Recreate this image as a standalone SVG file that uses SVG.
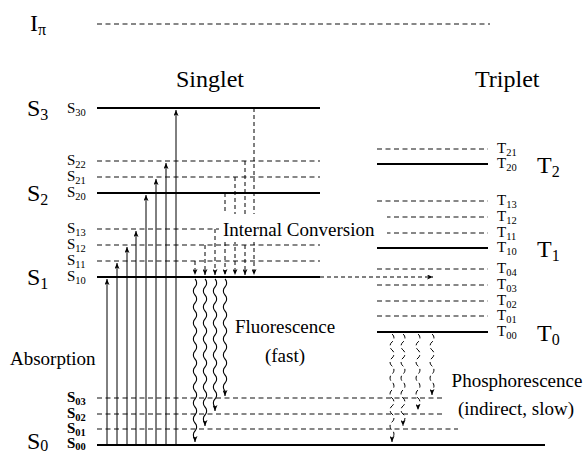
<svg xmlns="http://www.w3.org/2000/svg" width="588" height="454" viewBox="0 0 588 454" font-family="'Liberation Serif', 'Times New Roman', serif">
  <style>
    text { font-family: "Liberation Serif", "Times New Roman", serif; fill: #000; }
    .solid { stroke: #000; stroke-width: 2; fill: none; }
    .dash { stroke: #111; stroke-width: 1.1; stroke-dasharray: 5 3.5; fill: none; }
    .lbl { font-size: 15px; }
    .lbl tspan { font-size: 10.5px; }
    .big { font-size: 24px; }
    .big tspan { font-size: 16px; }
    .cap { font-size: 19px; }
    .abs { stroke: #000; stroke-width: 1; fill: none; marker-end: url(#ah); }
    .ic { stroke: #000; stroke-width: 1; stroke-dasharray: 4 3; fill: none; marker-end: url(#ah); }
    .wave { stroke: #000; stroke-width: 1.1; fill: none; marker-end: url(#ah); }
    .dwave { stroke: #000; stroke-width: 1; stroke-dasharray: 5 3; fill: none; marker-end: url(#ah); }
  </style>
  <defs>
    <marker id="ah" viewBox="0 0 6 5" refX="6" refY="2.5" markerWidth="6" markerHeight="5" orient="auto" markerUnits="userSpaceOnUse">
      <path d="M0,0 L6,2.5 L0,5 L1.6,2.5 z" fill="#000"/>
    </marker>
  </defs>
  <rect width="588" height="454" fill="#fff"/>

  <!-- ionisation limit -->
  <g id="Ipi">
    <line class="dash" x1="97" y1="24" x2="490" y2="24"/>
    <text class="big" x="30" y="31">I<tspan dy="4">π</tspan></text>
  </g>

  <text class="big" x="176" y="87">Singlet</text>
  <text class="big" x="475" y="87">Triplet</text>

  <!-- singlet manifold -->
  <g id="S3">
    <text class="big" x="27" y="116">S<tspan dy="4">3</tspan></text>
    <g id="S30"><line class="solid" x1="97" y1="108" x2="320" y2="108"/><text class="lbl" x="67" y="113">S<tspan dy="3">30</tspan></text></g>
  </g>
  <g id="S2">
    <text class="big" x="27" y="201">S<tspan dy="4">2</tspan></text>
    <g id="S22"><line class="dash" x1="97" y1="161" x2="320" y2="161"/><text class="lbl" x="67" y="165">S<tspan dy="3">22</tspan></text></g>
    <g id="S21"><line class="dash" x1="97" y1="177" x2="320" y2="177"/><text class="lbl" x="67" y="181">S<tspan dy="3">21</tspan></text></g>
    <g id="S20"><line class="solid" x1="97" y1="193" x2="320" y2="193"/><text class="lbl" x="67" y="197">S<tspan dy="3">20</tspan></text></g>
  </g>
  <g id="S1">
    <text class="big" x="27" y="285">S<tspan dy="4">1</tspan></text>
    <g id="S13"><line class="dash" x1="97" y1="229" x2="320" y2="229"/><text class="lbl" x="67" y="233">S<tspan dy="3">13</tspan></text></g>
    <g id="S12"><line class="dash" x1="97" y1="245" x2="320" y2="245"/><text class="lbl" x="67" y="249">S<tspan dy="3">12</tspan></text></g>
    <g id="S11"><line class="dash" x1="97" y1="261" x2="320" y2="261"/><text class="lbl" x="67" y="265">S<tspan dy="3">11</tspan></text></g>
    <g id="S10"><line class="solid" x1="97" y1="277" x2="320" y2="277"/><text class="lbl" x="67" y="281">S<tspan dy="3">10</tspan></text></g>
  </g>
  <g id="S0" font-weight="bold">
    <text class="big" x="27" y="449" font-weight="normal">S<tspan dy="2">0</tspan></text>
    <g id="S03"><line class="dash" x1="97" y1="398" x2="443" y2="398"/><text class="lbl" x="67" y="402">S<tspan dy="3">03</tspan></text></g>
    <g id="S02"><line class="dash" x1="97" y1="414" x2="443" y2="414"/><text class="lbl" x="67" y="418">S<tspan dy="3">02</tspan></text></g>
    <g id="S01"><line class="dash" x1="97" y1="429" x2="458" y2="429"/><text class="lbl" x="67" y="433">S<tspan dy="3">01</tspan></text></g>
    <g id="S00"><line class="solid" x1="97" y1="445" x2="545" y2="445"/><text class="lbl" x="67" y="448">S<tspan dy="2">00</tspan></text></g>
  </g>

  <!-- triplet manifold -->
  <g id="T2">
    <text class="big" x="537" y="173">T<tspan dy="4">2</tspan></text>
    <g id="T21"><line class="dash" x1="377" y1="149" x2="488" y2="149"/><text class="lbl" x="497" y="153">T<tspan dy="3">21</tspan></text></g>
    <g id="T20"><line class="solid" x1="377" y1="164" x2="488" y2="164"/><text class="lbl" x="497" y="168">T<tspan dy="3">20</tspan></text></g>
  </g>
  <g id="T1">
    <text class="big" x="537" y="257">T<tspan dy="4">1</tspan></text>
    <g id="T13"><line class="dash" x1="377" y1="201" x2="488" y2="201"/><text class="lbl" x="497" y="205">T<tspan dy="3">13</tspan></text></g>
    <g id="T12"><line class="dash" x1="377" y1="217" x2="488" y2="217"/><text class="lbl" x="497" y="221">T<tspan dy="3">12</tspan></text></g>
    <g id="T11"><line class="dash" x1="377" y1="233" x2="488" y2="233"/><text class="lbl" x="497" y="237">T<tspan dy="3">11</tspan></text></g>
    <g id="T10"><line class="solid" x1="377" y1="248" x2="488" y2="248"/><text class="lbl" x="497" y="252">T<tspan dy="3">10</tspan></text></g>
  </g>
  <g id="T0">
    <text class="big" x="537" y="341">T<tspan dy="4">0</tspan></text>
    <g id="T04"><line class="dash" x1="377" y1="269" x2="488" y2="269"/><text class="lbl" x="497" y="273">T<tspan dy="3">04</tspan></text></g>
    <g id="T03"><line class="dash" x1="377" y1="285" x2="488" y2="285"/><text class="lbl" x="497" y="289">T<tspan dy="3">03</tspan></text></g>
    <g id="T02"><line class="dash" x1="377" y1="301" x2="488" y2="301"/><text class="lbl" x="497" y="305">T<tspan dy="3">02</tspan></text></g>
    <g id="T01"><line class="dash" x1="377" y1="316" x2="488" y2="316"/><text class="lbl" x="497" y="320">T<tspan dy="3">01</tspan></text></g>
    <g id="T00"><line class="solid" x1="377" y1="332" x2="488" y2="332"/><text class="lbl" x="497" y="336">T<tspan dy="3">00</tspan></text></g>
  </g>

  <!-- transitions -->
  <g id="connectors">
    <!-- absorption -->
    <line class="abs" x1="107" y1="444" x2="107" y2="279"/>
    <line class="abs" x1="117" y1="444" x2="117" y2="263"/>
    <line class="abs" x1="127" y1="444" x2="127" y2="247"/>
    <line class="abs" x1="136" y1="444" x2="136" y2="231"/>
    <line class="abs" x1="146" y1="444" x2="146" y2="195"/>
    <line class="abs" x1="156" y1="444" x2="156" y2="179"/>
    <line class="abs" x1="166" y1="444" x2="166" y2="163"/>
    <line class="abs" x1="176" y1="444" x2="176" y2="110"/>
    <!-- internal conversion -->
    <line class="ic" x1="195" y1="261" x2="195" y2="275"/>
    <line class="ic" x1="205" y1="245" x2="205" y2="275"/>
    <line class="ic" x1="215" y1="229" x2="215" y2="275"/>
    <line class="ic" x1="225" y1="193" x2="225" y2="275"/>
    <line class="ic" x1="235" y1="177" x2="235" y2="275"/>
    <line class="ic" x1="245" y1="161" x2="245" y2="275"/>
    <line class="ic" x1="254" y1="108" x2="254" y2="275"/>
    <!-- intersystem crossing -->
    <line class="ic" x1="320" y1="277" x2="433" y2="277"/>
    <!-- fluorescence (sine-like half waves of 8px) -->
    <path class="wave" d="M195,279 c2.2,2 2.2,6 0,8 s-2.2,6 0,8 s2.2,6 0,8 s-2.2,6 0,8 s2.2,6 0,8 s-2.2,6 0,8 s2.2,6 0,8 s-2.2,6 0,8 s2.2,6 0,8 s-2.2,6 0,8 s2.2,6 0,8 s-2.2,6 0,8 s2.2,6 0,8 s-2.2,6 0,8 s2.2,6 0,8 s-2.2,6 0,8 s2.2,6 0,8 s-2.2,6 0,8 s2.2,6 0,8 s-2.2,6 0,8 l0,3"/>
    <path class="wave" d="M205,279 c2.2,2 2.2,6 0,8 s-2.2,6 0,8 s2.2,6 0,8 s-2.2,6 0,8 s2.2,6 0,8 s-2.2,6 0,8 s2.2,6 0,8 s-2.2,6 0,8 s2.2,6 0,8 s-2.2,6 0,8 s2.2,6 0,8 s-2.2,6 0,8 s2.2,6 0,8 s-2.2,6 0,8 s2.2,6 0,8 s-2.2,6 0,8 s2.2,6 0,8 s-2.2,6 0,8 l0,3"/>
    <path class="wave" d="M215,279 c2.2,2 2.2,6 0,8 s-2.2,6 0,8 s2.2,6 0,8 s-2.2,6 0,8 s2.2,6 0,8 s-2.2,6 0,8 s2.2,6 0,8 s-2.2,6 0,8 s2.2,6 0,8 s-2.2,6 0,8 s2.2,6 0,8 s-2.2,6 0,8 s2.2,6 0,8 s-2.2,6 0,8 s2.2,6 0,8 s-2.2,6 0,8 l0,4"/>
    <path class="wave" d="M225,279 c2.2,2 2.2,6 0,8 s-2.2,6 0,8 s2.2,6 0,8 s-2.2,6 0,8 s2.2,6 0,8 s-2.2,6 0,8 s2.2,6 0,8 s-2.2,6 0,8 s2.2,6 0,8 s-2.2,6 0,8 s2.2,6 0,8 s-2.2,6 0,8 s2.2,6 0,8 s-2.2,6 0,8 l0,5"/>
    <!-- phosphorescence -->
    <path class="dwave" d="M392,334 c2.6,2 2.6,6 0,8 s-2.6,6 0,8 s2.6,6 0,8 s-2.6,6 0,8 s2.6,6 0,8 s-2.6,6 0,8 s2.6,6 0,8 s-2.6,6 0,8 s2.6,6 0,8 s-2.6,6 0,8 s2.6,6 0,8 s-2.6,6 0,8 s2.6,6 0,8 l0,4"/>
    <path class="dwave" d="M403,334 c2.6,2 2.6,6 0,8 s-2.6,6 0,8 s2.6,6 0,8 s-2.6,6 0,8 s2.6,6 0,8 s-2.6,6 0,8 s2.6,6 0,8 s-2.6,6 0,8 s2.6,6 0,8 s-2.6,6 0,8 s2.6,6 0,8 l0,4"/>
    <path class="dwave" d="M418,334 c2.6,2 2.6,6 0,8 s-2.6,6 0,8 s2.6,6 0,8 s-2.6,6 0,8 s2.6,6 0,8 s-2.6,6 0,8 s2.6,6 0,8 s-2.6,6 0,8 s2.6,6 0,8 l0,4"/>
    <path class="dwave" d="M432,334 c2.6,2 2.6,6 0,8 s-2.6,6 0,8 s2.6,6 0,8 s-2.6,6 0,8 s2.6,6 0,8 s-2.6,6 0,8 s2.6,6 0,8 l0,5"/>
  </g>

  <!-- captions -->
  <rect x="219" y="214" width="168" height="28" fill="#fff"/>
  <text class="cap" x="223" y="236">Internal Conversion</text>
  <text class="cap" x="10" y="365">Absorption</text>
  <text class="cap" x="285" y="333" text-anchor="middle">Fluorescence</text>
  <text class="cap" x="285" y="362" text-anchor="middle">(fast)</text>
  <text class="cap" x="517" y="387" text-anchor="middle">Phosphorescence</text>
  <text class="cap" x="516" y="415" text-anchor="middle">(indirect, slow)</text>
</svg>
